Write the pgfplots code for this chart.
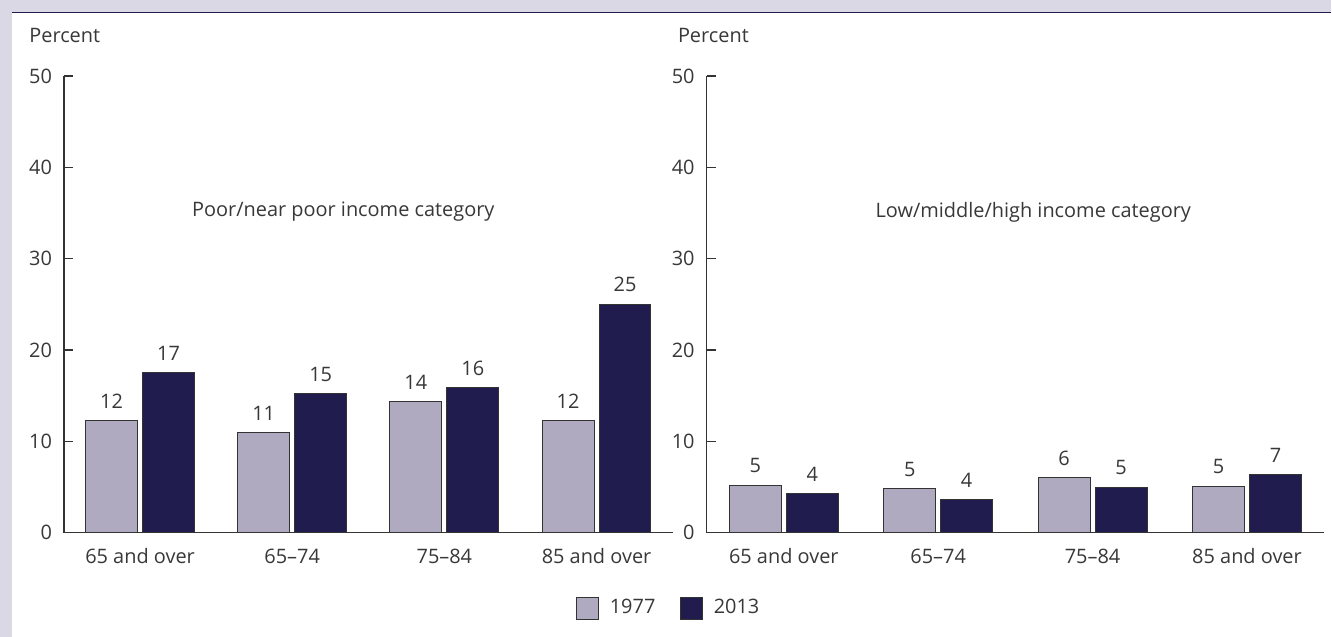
\documentclass[border=0pt]{standalone}
\usepackage{pgfplots}
\usepackage{pgfplotstable}
\pgfplotsset{compat=1.18}
\usepackage{fontspec}
\setmainfont{Open Sans}
\definecolor{bgl}{HTML}{DAD8E5}
\definecolor{navy}{HTML}{201C4E}
\definecolor{lightbar}{HTML}{AFAABF}
\definecolor{txt}{HTML}{383838}
\definecolor{axl}{HTML}{333333}

\pgfplotstableread{
x y lab
0 12.3 12
1 11.0 11
2 14.4 14
3 12.3 12
}\poorA
\pgfplotstableread{
x y lab
0 17.5 17
1 15.2 15
2 15.9 16
3 25.0 25
}\poorB
\pgfplotstableread{
x y lab
0 5.2 5
1 4.8 5
2 6.0 6
3 5.1 5
}\highA
\pgfplotstableread{
x y lab
0 4.3 4
1 3.6 4
2 5.0 5
3 6.4 7
}\highB

\pgfplotsset{
  panel/.style={
    scale only axis,
    height=228.5bp,
    ymin=0, ymax=50,
    ytick={0,10,20,30,40,50},
    xmin=-0.5, xmax=3.5,
    xtick={0,1,2,3},
    xticklabels={65 and over,65--74,75--84,85 and over},
    axis x line*=bottom,
    axis y line*=left,
    x axis line style={-, draw=axl, line width=0.6bp},
    y axis line style={-, draw=axl, line width=0.6bp},
    xtick style={draw=none},
    ytick style={draw=axl, line width=0.6bp},
    tick align=inside,
    major tick length=4.5bp,
    /pgf/number format/assume math mode=true,
    tick label style={font=\fontsize{10}{12}\selectfont, text=txt},
    yticklabel style={xshift=-2.5bp},
    ybar=2.5bp,
    bar width=26bp,
    nodes near coords,
    point meta=explicit symbolic,
    every node near coord/.append style={font=\fontsize{10}{12}\selectfont, text=txt, yshift=2.5bp},
    legend image code/.code={\draw[##1] (0bp,-5.5bp) rectangle (11bp,5.5bp); \path[draw=none,fill=none] (14.5bp,0bp);},
  },
  s1977/.style={fill=lightbar, draw=axl, line width=0.5bp},
  s2013/.style={fill=navy, draw=axl, line width=0.5bp},
}

\begin{document}
\begin{tikzpicture}
  \fill[bgl] (0bp,0bp) rectangle (666bp,-318.5bp);
  \fill[white] (6bp,-6.5bp) rectangle (666bp,-318.5bp);
  \draw[navy, line width=0.8bp] (6bp,-6.2bp) -- (666bp,-6.2bp);
  \path[use as bounding box] (0bp,0bp) rectangle (666bp,-318.5bp);

  \begin{axis}[panel, width=304.5bp, at={(32bp,-266.5bp)}, anchor=south west,
    legend style={draw=none, fill=none, at={(0.9955,-0.165)}, anchor=center,
      legend columns=2, font=\fontsize{10}{12}\selectfont, text=txt,
      /tikz/every even column/.append style={column sep=10.5bp}},
    ]
    \addplot[s1977] table[x=x, y=y, meta=lab] {\poorA};
    \addplot[s2013] table[x=x, y=y, meta=lab] {\poorB};
    \legend{1977,2013}
    \node[font=\fontsize{10}{12}\selectfont, text=txt] at (axis cs:1.336,35.1) {Poor/near poor income category};
  \end{axis}

  \begin{axis}[panel, width=309bp, at={(353.5bp,-266.5bp)}, anchor=south west]
    \addplot[s1977] table[x=x, y=y, meta=lab] {\highA};
    \addplot[s2013] table[x=x, y=y, meta=lab] {\highB};
    \node[font=\fontsize{10}{12}\selectfont, text=txt] at (axis cs:1.616,35.1) {Low/middle/high income category};
  \end{axis}

  \node[anchor=base west, inner sep=0, font=\fontsize{10}{12}\selectfont, text=txt] at (14.5bp,-21.2bp) {Percent};
  \node[anchor=base west, inner sep=0, font=\fontsize{10}{12}\selectfont, text=txt] at (339bp,-21.2bp) {Percent};
\end{tikzpicture}
\end{document}
